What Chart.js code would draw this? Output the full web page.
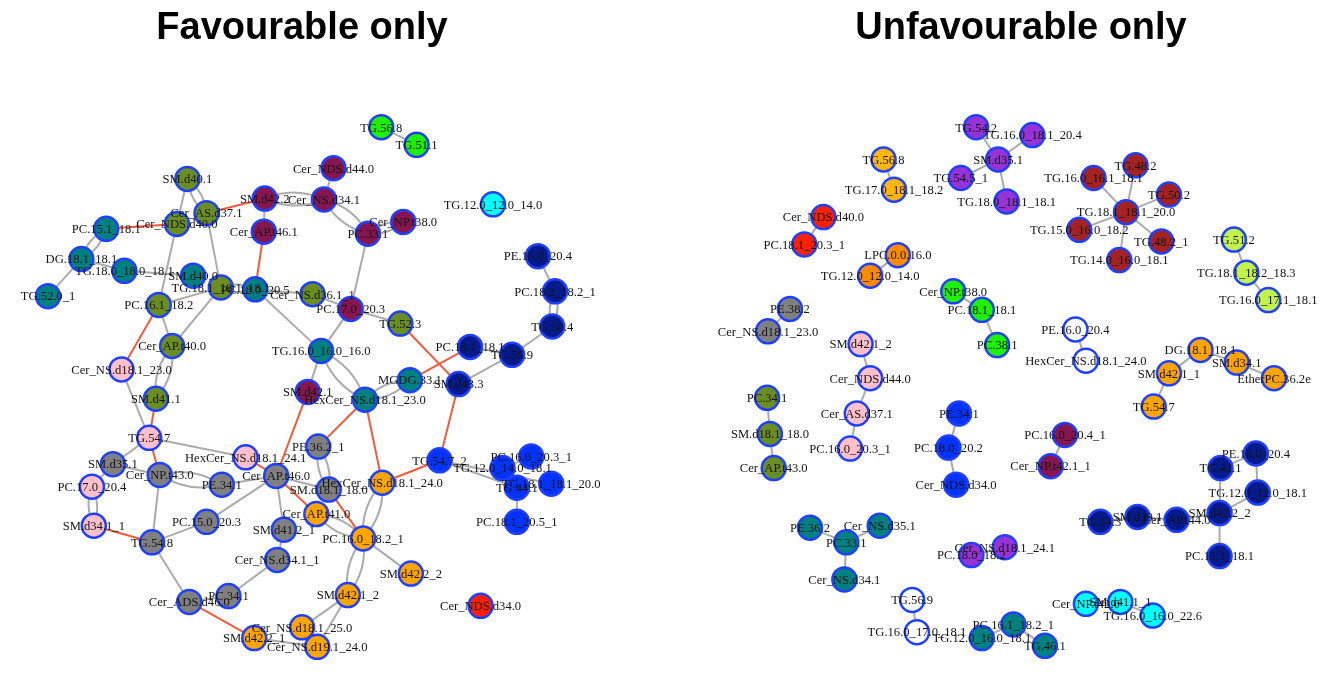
<!DOCTYPE html>
<html>
<head>
<meta charset="utf-8">
<script src="https://cdn.jsdelivr.net/npm/chart.js@4.4.1/dist/chart.umd.min.js"></script>
<style>
  html, body { margin: 0; padding: 0; background: #ffffff; width: 1341px; height: 676px; overflow: hidden; }
  .panel { position: absolute; top: 0; height: 676px; }
  #leftPanel { left: -20px; width: 644px; }
  #rightPanel { left: 701px; width: 640px; }
</style>
</head>
<body>
<div class="panel" id="leftPanel"><canvas id="favCanvas" width="644" height="676"></canvas></div>
<div class="panel" id="rightPanel"><canvas id="unfavCanvas" width="640" height="676"></canvas></div>
<script>
// ---- Favourable network: lipid nodes (layout x, layout y, module) ----
const FAV_LIPIDS = [
  'TG.56.8','TG.51.1','Cer_NDS.d44.0','Cer_NS.d34.1','Cer_NP.t38.0','PC.33.1','TG.12.0_12.0_14.0',
  'PE.16.0_20.4','PC.18.2_18.2_1','SM.d40.1','Cer_AS.d37.1','Cer_NDS.d40.0','SM.d42.2','Cer_AP.t46.1',
  'PC.15.1_18.1','DG.18.1_18.1','TG.18.0_18.0_18.1','TG.52.0_1','SM.d40.0','TG.18.1_18.1_18.1',
  'PC.18.0_20.5','Cer_NS.d36.1_1','PC.17.0_20.3','TG.52.3','PC.16.1_18.2','Cer_AP.t40.0',
  'Cer_NS.d18.1_23.0','SM.d41.1','TG.54.7','TG.16.0_16.0_16.0','SM.d42.1','HexCer_NS.d18.1_23.0',
  'MGDG.33.1','SM.d43.3','PC.18.1_18.1','TG.56.9','TG.50.4','PE.36.2_1','HexCer_NS.d18.1_24.1',
  'TG.54.7_2','PC.16.0_20.3_1','TG.12.0_14.0_18.1','TG.44.1','TG.18.1_18.1_20.0','PC.18.1_20.5_1',
  'SM.d35.1','Cer_NP.t43.0','PC.17.0_20.4','SM.d34.1_1','TG.54.8','PE.34.1','Cer_AP.t46.0',
  'PC.15.0_20.3','SM.d41.2_1','Cer_NS.d34.1_1','PC.34.1','Cer_ADS.d46.0','SM.d42.2_1',
  'Cer_NS.d18.1_25.0','Cer_NS.d19.1_24.0','SM.d18.1_18.0','HexCer_NS.d18.1_24.0','Cer_AP.t41.0',
  'PC.16.0_18.2_1','SM.d42.2_2','SM.d42.1_2','Cer_NDS.d34.0'
];
const FAV_X = [
  385,422,335,325,408,371,502,
  549,567,182,202,171,263,262,
  97,71,116,36,188,217,
  253,313,353,405,152,166,
  113,149,142,322,308,368,
  415,466,478,522,564,319,243,
  446,542,512,527,563,527,
  104,153,82,84,145,218,275,
  202,283,276,225,184,252,
  302,318,330,386,317,
  366,416,350,489
];
const FAV_Y = [
  129,147,171,203,226,238,208,
  261,297,182,217,228,202,236,
  233,264,276,302,281,293,
  295,300,315,330,311,353,
  377,407,447,358,400,408,
  388,392,354,362,333,456,467,
  470,466,478,498,494,533,
  474,485,497,537,554,495,486,
  533,541,572,609,615,652,
  641,661,500,493,525,
  550,586,608,619
];
const FAV_MODULE = [
  9,9,2,2,2,2,10,
  7,7,1,1,1,2,2,
  3,3,3,3,3,1,
  3,1,2,1,1,1,
  4,1,4,3,2,3,
  3,7,7,7,7,5,4,
  8,8,8,8,8,8,
  5,5,4,4,5,5,5,
  5,5,5,5,5,6,
  6,6,5,6,6,
  6,6,6,11
];
// edges: [from, to, sign (+1 / -1), multiplicity]
const FAV_EDGES = [
  ['TG.56.8','TG.51.1',1,1],
  ['SM.d40.1','Cer_AS.d37.1',1,2],
  ['SM.d40.1','Cer_NDS.d40.0',1,1],
  ['Cer_NDS.d40.0','PC.15.1_18.1',-1,1],
  ['Cer_AS.d37.1','SM.d42.2',-1,1],
  ['SM.d42.2','Cer_AP.t46.1',1,1],
  ['SM.d42.2','Cer_NS.d34.1',1,2],
  ['Cer_NDS.d44.0','Cer_NS.d34.1',1,1],
  ['Cer_NS.d34.1','PC.33.1',1,2],
  ['PC.33.1','Cer_NP.t38.0',1,2],
  ['PC.33.1','PC.17.0_20.3',1,1],
  ['Cer_AP.t46.1','PC.18.0_20.5',-1,1],
  ['PC.15.1_18.1','DG.18.1_18.1',1,2],
  ['DG.18.1_18.1','TG.18.0_18.0_18.1',1,1],
  ['TG.18.0_18.0_18.1','SM.d40.0',1,1],
  ['DG.18.1_18.1','TG.52.0_1',1,1],
  ['Cer_NDS.d40.0','PC.16.1_18.2',1,1],
  ['Cer_AS.d37.1','TG.18.1_18.1_18.1',1,1],
  ['TG.18.1_18.1_18.1','PC.18.0_20.5',1,2],
  ['PC.18.0_20.5','Cer_NS.d36.1_1',1,1],
  ['PC.18.0_20.5','TG.16.0_16.0_16.0',1,1],
  ['PC.16.1_18.2','TG.18.1_18.1_18.1',1,1],
  ['PC.16.1_18.2','Cer_AP.t40.0',1,1],
  ['PC.16.1_18.2','Cer_NS.d18.1_23.0',-1,1],
  ['TG.18.1_18.1_18.1','Cer_AP.t40.0',1,1],
  ['Cer_AP.t40.0','SM.d41.1',1,2],
  ['Cer_NS.d18.1_23.0','TG.54.7',1,1],
  ['SM.d41.1','TG.54.7',-1,1],
  ['TG.54.7','Cer_NP.t43.0',-1,1],
  ['TG.54.7','SM.d35.1',1,1],
  ['TG.54.7','HexCer_NS.d18.1_24.1',1,1],
  ['HexCer_NS.d18.1_24.1','Cer_AP.t46.0',-1,1],
  ['SM.d42.1','Cer_AP.t46.0',-1,1],
  ['SM.d42.1','TG.16.0_16.0_16.0',1,1],
  ['TG.16.0_16.0_16.0','PC.17.0_20.3',1,1],
  ['Cer_NS.d36.1_1','PC.17.0_20.3',1,1],
  ['PC.17.0_20.3','TG.52.3',1,1],
  ['TG.52.3','SM.d43.3',-1,1],
  ['TG.16.0_16.0_16.0','HexCer_NS.d18.1_23.0',1,2],
  ['HexCer_NS.d18.1_23.0','MGDG.33.1',1,2],
  ['MGDG.33.1','PC.18.1_18.1',-1,1],
  ['PC.18.1_18.1','TG.56.9',1,1],
  ['SM.d43.3','TG.56.9',1,1],
  ['TG.56.9','TG.50.4',1,1],
  ['TG.50.4','PC.18.2_18.2_1',1,2],
  ['PC.18.2_18.2_1','PE.16.0_20.4',1,1],
  ['SM.d43.3','TG.54.7_2',-1,1],
  ['HexCer_NS.d18.1_23.0','PE.36.2_1',-1,1],
  ['HexCer_NS.d18.1_23.0','HexCer_NS.d18.1_24.0',-1,1],
  ['HexCer_NS.d18.1_24.0','TG.54.7_2',-1,1],
  ['TG.54.7_2','TG.44.1',1,1],
  ['TG.54.7_2','TG.18.1_18.1_20.0',1,1],
  ['PC.16.0_20.3_1','TG.12.0_14.0_18.1',1,1],
  ['TG.12.0_14.0_18.1','TG.44.1',1,1],
  ['TG.44.1','PC.18.1_20.5_1',1,1],
  ['PE.36.2_1','SM.d18.1_18.0',1,2],
  ['Cer_AP.t46.0','Cer_AP.t41.0',-1,1],
  ['SM.d18.1_18.0','PC.16.0_18.2_1',-1,1],
  ['PE.34.1','Cer_AP.t46.0',1,1],
  ['Cer_AP.t46.0','SM.d18.1_18.0',1,1],
  ['Cer_AP.t46.0','PC.15.0_20.3',1,1],
  ['Cer_AP.t46.0','SM.d41.2_1',1,1],
  ['SM.d35.1','Cer_NP.t43.0',1,1],
  ['Cer_NP.t43.0','PE.34.1',1,2],
  ['Cer_NP.t43.0','TG.54.8',1,1],
  ['SM.d35.1','PC.17.0_20.4',1,1],
  ['PC.17.0_20.4','SM.d34.1_1',1,2],
  ['SM.d34.1_1','TG.54.8',-1,1],
  ['TG.54.8','PC.15.0_20.3',1,1],
  ['TG.54.8','Cer_ADS.d46.0',1,1],
  ['Cer_ADS.d46.0','PC.34.1',1,1],
  ['PC.34.1','Cer_NS.d34.1_1',1,1],
  ['Cer_NS.d34.1_1','SM.d41.2_1',1,1],
  ['Cer_ADS.d46.0','SM.d42.2_1',-1,1],
  ['SM.d42.2_1','Cer_NS.d19.1_24.0',1,1],
  ['Cer_NS.d18.1_25.0','SM.d42.1_2',1,1],
  ['Cer_NS.d19.1_24.0','SM.d42.1_2',1,1],
  ['SM.d42.1_2','PC.16.0_18.2_1',1,2],
  ['PC.16.0_18.2_1','SM.d42.2_2',1,1],
  ['PC.16.0_18.2_1','HexCer_NS.d18.1_24.0',1,2],
  ['PC.16.0_18.2_1','Cer_AP.t41.0',1,2]
];

// ---- Unfavourable network ----
const UNFAV_LIPIDS = [
  'TG.56.8','TG.17.0_18.1_18.2','Cer_NDS.d40.0','PC.18.1_20.3_1','LPC.0.0.16.0','TG.12.0_12.0_14.0',
  'TG.54.2','SM.d35.1','TG.54.5_1','TG.18.0_18.1_18.1','TG.16.0_18.1_20.4',
  'TG.48.2','TG.16.0_16.1_18.1','TG.50.2','TG.18.1_18.1_20.0','TG.15.0_16.0_18.2','TG.48.2_1','TG.14.0_16.0_18.1',
  'TG.51.2','TG.18.1_18.2_18.3','TG.16.0_17.1_18.1',
  'Cer_NP.t38.0','PC.18.1_18.1','PC.38.1','PE.38.2','Cer_NS.d18.1_23.0',
  'SM.d42.1_2','Cer_NDS.d44.0','Cer_AS.d37.1','PC.16.0_20.3_1',
  'PC.34.1','SM.d18.1_18.0','Cer_AP.t43.0','PE.34.1','PC.18.0_20.2','Cer_NDS.d34.0',
  'PE.16.0_20.4','HexCer_NS.d18.1_24.0','DG.18.1_18.1','SM.d42.1_1','SM.d34.1','EtherPC.36.2e','TG.54.7',
  'PC.16.0_20.4_1','Cer_NP.t42.1_1',
  'PE.18.0_20.4','TG.42.1','TG.12.0_12.0_18.1','SM.d42.2_2','PC.15.1_18.1','TG.54.3','SM.d39.1','Cer_AP.t44.0',
  'PE.36.2','Cer_NS.d35.1','PC.33.1','Cer_NS.d34.1','Cer_NS.d18.1_24.1','PC.18.0_18.2',
  'TG.56.9','TG.16.0_17.0_18.1','TG.12.0_16.0_18.1','PC.16.1_18.2_1','TG.46.1',
  'Cer_NP.t42.0','SM.d41.1_1','TG.16.0_16.0_22.6'
];
const UNFAV_X = [
  877,888,814,794,892,863,
  974,997,958,1006,1033,
  1141,1097,1176,1131,1082,1168,1124,
  1244,1257,1280,
  950,980,996,779,756,
  853,863,849,842,
  755,758,762,956,945,953,
  1078,1089,1209,1176,1247,1286,1160,
  1067,1052,
  1267,1230,1269,1229,1229,1104,1143,1184,
  800,873,838,836,1004,969,
  907,912,980,1013,1046,
  1089,1125,1159
];
const UNFAV_Y = [
  162,193,221,249,260,281,
  129,162,181,205,137,
  168,181,198,216,234,246,265,
  244,278,306,
  297,316,352,315,338,
  351,386,422,458,
  406,443,478,422,457,495,
  336,368,357,381,370,386,415,
  444,476,
  463,478,503,524,568,533,528,531,
  539,537,554,592,559,567,
  613,646,652,638,660,
  617,615,629
];
const UNFAV_MODULE = [
  14,14,11,11,15,15,
  12,12,12,12,12,
  13,13,13,13,13,13,13,
  16,16,16,
  9,9,9,5,5,
  4,4,4,4,
  1,1,1,8,8,8,
  0,0,6,6,6,6,6,
  2,2,
  7,7,7,7,7,7,7,7,
  3,3,3,3,12,12,
  0,0,3,3,3,
  10,10,10
];
const UNFAV_EDGES = [
  ['TG.56.8','TG.17.0_18.1_18.2',1,1],
  ['Cer_NDS.d40.0','PC.18.1_20.3_1',1,1],
  ['LPC.0.0.16.0','TG.12.0_12.0_14.0',1,1],
  ['TG.54.2','SM.d35.1',1,1],
  ['SM.d35.1','TG.54.5_1',1,1],
  ['SM.d35.1','TG.18.0_18.1_18.1',1,1],
  ['SM.d35.1','TG.16.0_18.1_20.4',1,1],
  ['TG.18.1_18.1_20.0','TG.48.2',1,1],
  ['TG.18.1_18.1_20.0','TG.16.0_16.1_18.1',1,1],
  ['TG.18.1_18.1_20.0','TG.50.2',1,1],
  ['TG.18.1_18.1_20.0','TG.15.0_16.0_18.2',1,1],
  ['TG.18.1_18.1_20.0','TG.48.2_1',1,1],
  ['TG.18.1_18.1_20.0','TG.14.0_16.0_18.1',1,1],
  ['TG.51.2','TG.18.1_18.2_18.3',1,1],
  ['TG.18.1_18.2_18.3','TG.16.0_17.1_18.1',1,1],
  ['Cer_NP.t38.0','PC.18.1_18.1',1,1],
  ['PC.18.1_18.1','PC.38.1',1,1],
  ['PE.38.2','Cer_NS.d18.1_23.0',1,1],
  ['SM.d42.1_2','Cer_NDS.d44.0',1,1],
  ['Cer_NDS.d44.0','Cer_AS.d37.1',1,1],
  ['Cer_AS.d37.1','PC.16.0_20.3_1',1,1],
  ['PE.16.0_20.4','HexCer_NS.d18.1_24.0',1,1],
  ['DG.18.1_18.1','SM.d42.1_1',1,1],
  ['DG.18.1_18.1','SM.d34.1',1,1],
  ['SM.d34.1','EtherPC.36.2e',1,1],
  ['SM.d42.1_1','TG.54.7',1,1],
  ['PC.34.1','SM.d18.1_18.0',1,1],
  ['SM.d18.1_18.0','Cer_AP.t43.0',1,1],
  ['PE.34.1','PC.18.0_20.2',1,1],
  ['PC.18.0_20.2','Cer_NDS.d34.0',1,1],
  ['PC.16.0_20.4_1','Cer_NP.t42.1_1',1,1],
  ['PE.18.0_20.4','TG.42.1',1,1],
  ['PE.18.0_20.4','TG.12.0_12.0_18.1',1,1],
  ['TG.42.1','SM.d42.2_2',1,1],
  ['TG.12.0_12.0_18.1','SM.d42.2_2',1,1],
  ['SM.d42.2_2','PC.15.1_18.1',1,1],
  ['SM.d42.2_2','Cer_AP.t44.0',1,1],
  ['Cer_AP.t44.0','SM.d39.1',1,1],
  ['SM.d39.1','TG.54.3',1,1],
  ['PE.36.2','PC.33.1',1,1],
  ['Cer_NS.d35.1','PC.33.1',1,1],
  ['PC.33.1','Cer_NS.d34.1',1,1],
  ['Cer_NS.d18.1_24.1','PC.18.0_18.2',1,1],
  ['TG.56.9','TG.16.0_17.0_18.1',1,1],
  ['TG.12.0_16.0_18.1','PC.16.1_18.2_1',1,1],
  ['PC.16.1_18.2_1','TG.46.1',1,1],
  ['Cer_NP.t42.0','SM.d41.1_1',1,1],
  ['SM.d41.1_1','TG.16.0_16.0_22.6',1,1]
];

// module colours (0 = unassigned, drawn hollow)
const MODULE_COLOURS = {
  0: '#ffffff', 1: '#6b8e23', 2: '#86164f', 3: '#008080', 4: '#ffc0cb', 5: '#808080',
  6: '#ffa500', 7: '#061a8c', 8: '#0433ff', 9: '#1ef000', 10: '#00ffff', 11: '#ff2000',
  12: '#9533d6', 13: '#a52222', 14: '#ffb60f', 15: '#ff8c00', 16: '#c4f24c'
};
const NODE_BORDER = '#1f40ff';
const EDGE_POS = '#ababab';
const EDGE_NEG = '#f25a3c';

const TITLE_FONT = { family: '"Liberation Sans", Arial, sans-serif', size: 38, weight: 'bold', lineHeight: 1.2 };
const TITLE_PAD = { top: 6, bottom: 0 };
const TITLE_BOX = TITLE_FONT.size * TITLE_FONT.lineHeight + TITLE_PAD.top + TITLE_PAD.bottom;

// draws network edges (straight or paired arcs) underneath the nodes
const edgePlugin = {
  id: 'networkEdges',
  beforeDatasetsDraw(chart, args, opts) {
    const { ctx, scales } = chart;
    const idx = opts.index;
    ctx.save();
    ctx.lineCap = 'round';
    ctx.lineWidth = 2;
    opts.edges.forEach(([a, b, sign, mult]) => {
      const i = idx[a], j = idx[b];
      const x1 = scales.x.getPixelForValue(opts.xs[i]);
      const y1 = scales.y.getPixelForValue(opts.ys[i]);
      const x2 = scales.x.getPixelForValue(opts.xs[j]);
      const y2 = scales.y.getPixelForValue(opts.ys[j]);
      ctx.strokeStyle = sign < 0 ? EDGE_NEG : EDGE_POS;
      if (mult > 1) {
        const dx = x2 - x1, dy = y2 - y1;
        const len = Math.hypot(dx, dy) || 1;
        const nx = -dy / len, ny = dx / len;
        const off = 0.22 * len;
        const mx = (x1 + x2) / 2, my = (y1 + y2) / 2;
        [1, -1].forEach(s => {
          ctx.beginPath();
          ctx.moveTo(x1, y1);
          ctx.quadraticCurveTo(mx + s * nx * off, my + s * ny * off, x2, y2);
          ctx.stroke();
        });
      } else {
        ctx.beginPath();
        ctx.moveTo(x1, y1);
        ctx.lineTo(x2, y2);
        ctx.stroke();
      }
    });
    ctx.restore();
  }
};

// draws the lipid names centred on their nodes
const labelPlugin = {
  id: 'nodeLabels',
  afterDatasetsDraw(chart, args, opts) {
    const { ctx } = chart;
    const meta = chart.getDatasetMeta(0);
    ctx.save();
    ctx.font = '12.6px "Liberation Serif", "Times New Roman", serif';
    ctx.fillStyle = '#141414';
    ctx.textAlign = 'center';
    ctx.textBaseline = 'alphabetic';
    meta.data.forEach((pt, k) => {
      ctx.fillText(opts.names[k], pt.x, pt.y + 4.3);
    });
    ctx.restore();
  }
};

function makeNetwork(canvasId, title, names, xs, ys, modules, edges, pageLeft, width) {
  const index = {};
  names.forEach((n, k) => { index[n] = k; });
  const points = names.map((n, k) => ({ x: xs[k], y: ys[k] }));
  return new Chart(document.getElementById(canvasId), {
    type: 'scatter',
    data: {
      datasets: [{
        data: points,
        pointRadius: 12,
        pointHoverRadius: 12,
        pointBorderWidth: 2.5,
        pointBackgroundColor: modules.map(m => MODULE_COLOURS[m]),
        pointBorderColor: NODE_BORDER,
        clip: false
      }]
    },
    options: {
      responsive: false,
      animation: false,
      events: [],
      layout: { padding: 0 },
      scales: {
        x: { type: 'linear', display: false, min: pageLeft, max: pageLeft + width },
        y: { type: 'linear', display: false, reverse: true, min: TITLE_BOX, max: 676 }
      },
      plugins: {
        legend: { display: false },
        tooltip: { enabled: false },
        title: {
          display: true,
          text: title,
          color: '#000000',
          font: TITLE_FONT,
          padding: TITLE_PAD
        },
        networkEdges: { edges: edges, index: index, xs: xs, ys: ys },
        nodeLabels: { names: names }
      }
    },
    plugins: [edgePlugin, labelPlugin]
  });
}

makeNetwork('favCanvas', 'Favourable only', FAV_LIPIDS, FAV_X, FAV_Y, FAV_MODULE, FAV_EDGES, -20, 644);
makeNetwork('unfavCanvas', 'Unfavourable only', UNFAV_LIPIDS, UNFAV_X, UNFAV_Y, UNFAV_MODULE, UNFAV_EDGES, 701, 640);
</script>
</body>
</html>
